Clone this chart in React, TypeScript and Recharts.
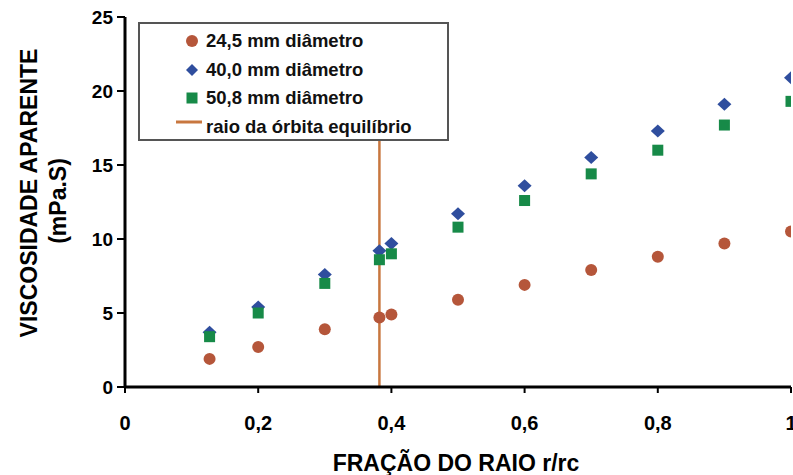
import React from "react";
import {
  ScatterChart, Scatter, XAxis, YAxis, ZAxis, ReferenceLine, Legend,
} from "recharts";

// r/rc fraction and apparent viscosity (mPa.S) for each pipe diameter
const radiusFraction = [0.127, 0.2, 0.3, 0.382, 0.4, 0.5, 0.6, 0.7, 0.8, 0.9, 1.0];
const visc245 = [1.9, 2.7, 3.9, 4.7, 4.9, 5.9, 6.9, 7.9, 8.8, 9.7, 10.5];
const visc400 = [3.7, 5.4, 7.6, 9.2, 9.7, 11.7, 13.6, 15.5, 17.3, 19.1, 20.9];
const visc508 = [3.4, 5.0, 7.0, 8.6, 9.0, 10.8, 12.6, 14.4, 16.0, 17.7, 19.3];
const equilibriumRadius = 0.382;
const equilibriumTop = 17;

const xTicks = [0, 0.2, 0.4, 0.6, 0.8, 1];
const yTicks = [0, 5, 10, 15, 20, 25];

const seriesNames = ["24,5 mm diâmetro", "40,0 mm diâmetro", "50,8 mm diâmetro"];
const lineName = "raio da órbita equilíbrio";

const BROWN = "#B5563A";
const BLUE = "#2F4E9E";
const GREEN = "#178A48";
const ORANGE = "#C8773F";
const FONT = "'Liberation Sans', Arial, sans-serif";

const toPoints = (ys: number[]) => radiusFraction.map((x, i) => ({ x, y: ys[i] }));
const data245 = toPoints(visc245);
const data400 = toPoints(visc400);
const data508 = toPoints(visc508);

const fmtComma = (v: number) => (v === 0 || v === 1 ? String(v) : v.toFixed(1).replace(".", ","));

// eslint-disable-next-line @typescript-eslint/no-explicit-any
const CircleShape = (p: any) => <circle cx={p.cx} cy={p.cy} r={6} fill={BROWN} />;
// eslint-disable-next-line @typescript-eslint/no-explicit-any
const DiamondShape = (p: any) => (
  <path d={`M${p.cx},${p.cy - 6.5}L${p.cx + 7},${p.cy}L${p.cx},${p.cy + 6.5}L${p.cx - 7},${p.cy}Z`} fill={BLUE} />
);
// eslint-disable-next-line @typescript-eslint/no-explicit-any
const SquareShape = (p: any) => <rect x={p.cx - 5.5} y={p.cy - 5.5} width={11} height={11} fill={GREEN} />;

function LegendBox() {
  const row: React.CSSProperties = { display: "flex", alignItems: "center", height: 28.5 };
  const txt: React.CSSProperties = { fontFamily: FONT, fontWeight: "bold", fontSize: 18.5, color: "#111" };
  const mark: React.CSSProperties = { width: 28, display: "flex", justifyContent: "center", marginLeft: 38 };
  return (
    <div style={{ border: "2px solid #555", background: "#fff", width: 307, height: 112, boxSizing: "content-box", paddingTop: 3 }}>
      <div style={row}>
        <div style={mark}><svg width={14} height={14}><circle cx={7} cy={7} r={6} fill={BROWN} /></svg></div>
        <span style={txt}>{seriesNames[0]}</span>
      </div>
      <div style={row}>
        <div style={mark}><svg width={14} height={14}><path d="M7,1L13,7L7,13L1,7Z" fill={BLUE} /></svg></div>
        <span style={txt}>{seriesNames[1]}</span>
      </div>
      <div style={row}>
        <div style={mark}><svg width={14} height={14}><rect x={1.5} y={1.5} width={11} height={11} fill={GREEN} /></svg></div>
        <span style={txt}>{seriesNames[2]}</span>
      </div>
      <div style={row}>
        <div style={{ width: 28, marginLeft: 36, marginRight: 2 }}><svg width={28} height={14}><line x1={0} y1={4} x2={26} y2={4} stroke={ORANGE} strokeWidth={3} /></svg></div>
        <span style={txt}>{lineName}</span>
      </div>
    </div>
  );
}

export default function App() {
  return (
    <div style={{ position: "absolute", left: 0, top: 0, width: 793, height: 475, background: "#fff" }}>
      <ScatterChart width={793} height={475} margin={{ top: 17, right: 2, bottom: 28, left: 25 }}>
        <XAxis
          type="number" dataKey="x" domain={[0, 1]} ticks={xTicks} tickFormatter={fmtComma}
          axisLine={{ stroke: "#000", strokeWidth: 3 }} tickLine={{ stroke: "#000", strokeWidth: 2 }}
          tickSize={6} tickMargin={23} height={60} interval={0} allowDataOverflow
          tick={{ fontFamily: FONT, fontWeight: "bold", fontSize: 20, fill: "#000" }}
          label={{
            content: () => (
              <text x={456} y={471} textAnchor="middle" fontFamily={FONT} fontWeight="bold" fontSize={23} fill="#000">
                FRAÇÃO DO RAIO r/rc
              </text>
            ),
          }}
        />
        <YAxis
          type="number" dataKey="y" domain={[0, 25]} ticks={yTicks}
          axisLine={{ stroke: "#000", strokeWidth: 3 }} tickLine={{ stroke: "#000", strokeWidth: 2 }}
          tickSize={8} tickMargin={4} width={100} interval={0}
          tick={{ fontFamily: FONT, fontWeight: "bold", fontSize: 19, fill: "#000" }}
          label={{
            content: () => (
              <g>
                <text transform="translate(37,193) rotate(-90)" textAnchor="middle" fontFamily={FONT} fontWeight="bold" fontSize={23} fill="#000">
                  VISCOSIDADE APARENTE
                </text>
                <text transform="translate(66,201) rotate(-90)" textAnchor="middle" fontFamily={FONT} fontWeight="bold" fontSize={23} fill="#000">
                  (mPa.S)
                </text>
              </g>
            ),
          }}
        />
        <ZAxis range={[110, 110]} />
        <ReferenceLine
          segment={[{ x: equilibriumRadius, y: 0 }, { x: equilibriumRadius, y: equilibriumTop }]}
          stroke={ORANGE} strokeWidth={2.5}
        />
        <Scatter name={seriesNames[0]} data={data245} shape={CircleShape} isAnimationActive={false} />
        <Scatter name={seriesNames[1]} data={data400} shape={DiamondShape} isAnimationActive={false} />
        <Scatter name={seriesNames[2]} data={data508} shape={SquareShape} isAnimationActive={false} />
        <Legend
          layout="vertical" align="center" verticalAlign="middle"
          content={() => <LegendBox />}
          wrapperStyle={{ position: "absolute", left: 138, top: 22, width: 311, height: 118 }}
        />
      </ScatterChart>
    </div>
  );
}
